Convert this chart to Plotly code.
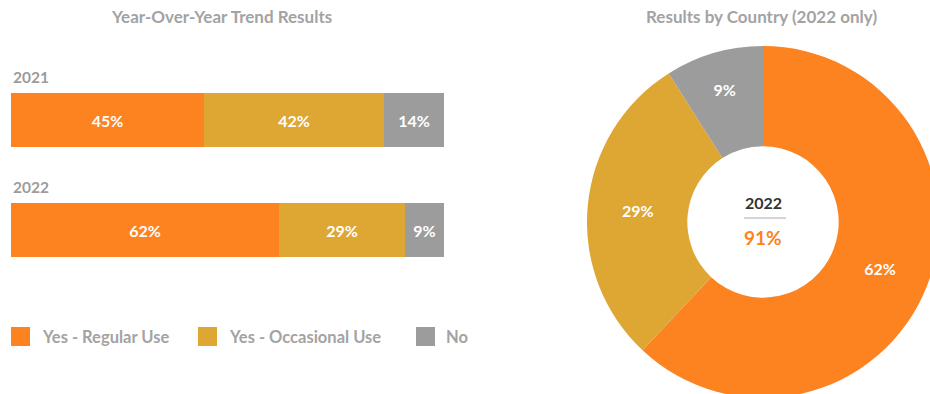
import plotly.graph_objects as go

# ---- data ----
years = ["2021", "2022"]
series_names = ["Yes - Regular Use", "Yes - Occasional Use", "No"]
regular_use = [45, 62]
occasional_use = [42, 29]
no_use = [14, 9]
series_values = [regular_use, occasional_use, no_use]
colors = ["#FD8220", "#DEA633", "#9C9C9C"]

pie_year = "2022"
pie_values = [62, 29, 9]

# ---- canvas helpers (pixel -> paper) ----
W, H = 940, 400
FONT = "Lato"


def px(x):
    return x / W


def py(y):
    return 1 - y / H


def label(text, x, y, size, color, xanchor="center", yref="paper"):
    return dict(
        text=text, x=x, y=y, xref="paper", yref=yref,
        xanchor=xanchor, yanchor="middle", showarrow=False,
        font=dict(family=FONT, size=size, color=color, weight="bold"),
    )


fig = go.Figure()

# stacked, normalised horizontal bars
for name, vals, col in zip(series_names, series_values, colors):
    fig.add_trace(go.Bar(
        y=years, x=vals, name=name, orientation="h",
        marker=dict(color=col, line=dict(width=0)),
        width=0.49,
        text=[f"{v}%" for v in vals],
        textposition="inside", insidetextanchor="middle",
        textfont=dict(family=FONT, size=16, color="white", weight="bold"),
        constraintext="none",
        hoverinfo="skip", showlegend=False,
    ))

# donut for the selected year
fig.add_trace(go.Pie(
    values=pie_values, labels=series_names,
    marker=dict(colors=colors, line=dict(width=0)),
    hole=0.43, sort=False, direction="clockwise", rotation=0,
    text=[f"{v}%" for v in pie_values], textinfo="text",
    textposition="inside", insidetextorientation="horizontal",
    textfont=dict(family=FONT, size=16, color="white", weight="bold"),
    domain=dict(x=[px(587), px(939)], y=[py(398), py(46)]),
    hoverinfo="skip", showlegend=False,
))

annotations = []
shapes = []

# chart titles
annotations.append(label("Year-Over-Year Trend Results",
                         px(221), py(17), 17, "#A3A3A3"))
annotations.append(label(f"Results by Country ({pie_year} only)",
                         px(761), py(17), 17, "#A3A3A3"))

# year labels above each bar
for i, yr in enumerate(years):
    annotations.append(label(yr, px(11), i - 0.39, 15.5, "#9C9C9C",
                             xanchor="left", yref="y"))

# legend row
legend_items = [(11, 40), (198, 227), (416, 444)]
for (sx, tx), name, col in zip(legend_items, series_names, colors):
    shapes.append(dict(
        type="rect", xref="paper", yref="paper",
        x0=px(sx), x1=px(sx + 19), y0=py(346), y1=py(327),
        fillcolor=col, line=dict(width=0),
    ))
    annotations.append(label(name, px(tx), py(336.5), 16.5, "#A3A3A3",
                             xanchor="left"))

# donut centre: year, divider, total "yes" share
yes_total = pie_values[0] + pie_values[1]
annotations.append(label(pie_year, px(763), py(202), 16, "#333333"))
shapes.append(dict(
    type="line", xref="paper", yref="paper",
    x0=px(744), x1=px(786), y0=py(218), y1=py(218),
    line=dict(color="#AAAAAA", width=1),
))
annotations.append(label(f"{yes_total}%", px(763), py(237), 19, "#FD8220"))

fig.update_layout(
    width=W, height=H,
    margin=dict(l=0, r=0, t=0, b=0),
    paper_bgcolor="white", plot_bgcolor="white",
    barmode="stack", barnorm="percent", bargap=0,
    xaxis=dict(domain=[px(11), px(444)], range=[0, 100], visible=False,
               fixedrange=True),
    yaxis=dict(domain=[py(285), py(65)], range=[1.5, -0.5], visible=False,
               fixedrange=True),
    annotations=annotations, shapes=shapes,
    showlegend=False,
)

fig.write_html(
    "out.html",
    config={"displayModeBar": False},
    post_script=(
        "document.documentElement.style.overflow='hidden';"
        "document.body.style.overflow='hidden';"
        "document.body.style.margin='0';"
    ),
)
